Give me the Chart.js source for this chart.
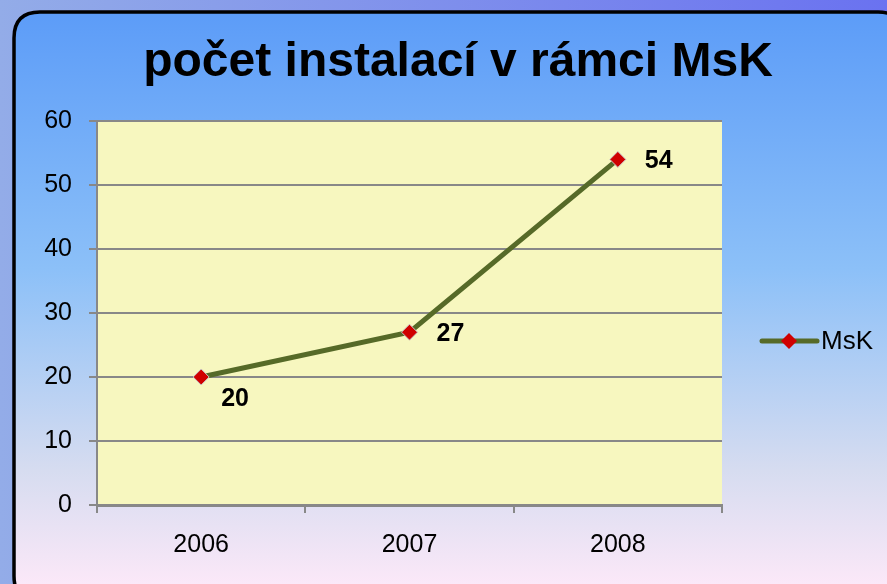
<!DOCTYPE html>
<html>
<head>
<meta charset="utf-8">
<script src="https://cdn.jsdelivr.net/npm/chart.js@4"></script>
<style>
  html, body { margin: 0; padding: 0; }
  body { width: 887px; height: 584px; overflow: hidden; }
  #wrap { position: relative; width: 887px; height: 584px; }
</style>
</head>
<body>
<div id="wrap"><canvas id="lineChart" width="887" height="584"></canvas></div>
<script>
var years = ["2006", "2007", "2008"];
var mskValues = [20, 27, 54];
var seriesName = "MsK";
var chartTitle = "počet instalací v rámci MsK";

var FONT = "'Liberation Sans', Arial, sans-serif";

// background, rounded box, title, legend and value labels
var decorPlugin = {
  id: "decor",
  beforeDraw: function (chart) {
    var ctx = chart.ctx;
    var w = chart.width, h = chart.height;
    ctx.save();
    var outer = ctx.createLinearGradient(0, 0, w, 0);
    outer.addColorStop(0, "#93ace8");
    outer.addColorStop(1, "#6a72f0");
    ctx.fillStyle = outer;
    ctx.fillRect(0, 0, w, h);

    var x = 14, y = 12, bw = 890, bh = 590, r = 26;
    ctx.beginPath();
    ctx.moveTo(x + r, y);
    ctx.lineTo(x + bw - r, y);
    ctx.quadraticCurveTo(x + bw, y, x + bw, y + r);
    ctx.lineTo(x + bw, y + bh - r);
    ctx.quadraticCurveTo(x + bw, y + bh, x + bw - r, y + bh);
    ctx.lineTo(x + r, y + bh);
    ctx.quadraticCurveTo(x, y + bh, x, y + bh - r);
    ctx.lineTo(x, y + r);
    ctx.quadraticCurveTo(x, y, x + r, y);
    ctx.closePath();
    var inner = ctx.createLinearGradient(0, y, 0, h);
    inner.addColorStop(0, "#5c9cf8");
    inner.addColorStop(0.45, "#8cc0f8");
    inner.addColorStop(0.8, "#d6dcf0");
    inner.addColorStop(1, "#fbe8f8");
    ctx.fillStyle = inner;
    ctx.fill();
    ctx.lineWidth = 3.5;
    ctx.strokeStyle = "#000";
    ctx.stroke();

    // title
    ctx.fillStyle = "#000";
    ctx.font = "bold 48px " + FONT;
    ctx.textAlign = "center";
    ctx.textBaseline = "middle";
    ctx.fillText(chartTitle, 458, 63);

    // plot area fill
    var a = chart.chartArea;
    ctx.fillStyle = "#f7f7bf";
    ctx.fillRect(a.left, a.top, a.right - a.left, a.bottom - a.top);
    ctx.restore();
  },
  afterDatasetsDraw: function (chart) {
    var ctx = chart.ctx;
    var ds = chart.data.datasets[0];
    var meta = chart.getDatasetMeta(0);
    ctx.save();
    ctx.fillStyle = "#000";
    ctx.font = "bold 25px " + FONT;
    ctx.textAlign = "left";
    ctx.textBaseline = "middle";
    var offs = [[20, 22], [27, 2], [27, 2]];
    meta.data.forEach(function (pt, i) {
      ctx.fillText(String(ds.data[i]), pt.x + offs[i][0], pt.y + offs[i][1]);
    });

    // legend
    var ly = 341, lx = 762;
    ctx.strokeStyle = ds.borderColor;
    ctx.lineWidth = 5;
    ctx.lineCap = "round";
    ctx.beginPath();
    ctx.moveTo(lx, ly);
    ctx.lineTo(lx + 55, ly);
    ctx.stroke();
    ctx.fillStyle = ds.pointBackgroundColor;
    ctx.beginPath();
    ctx.moveTo(lx + 27, ly - 8);
    ctx.lineTo(lx + 35, ly);
    ctx.lineTo(lx + 27, ly + 8);
    ctx.lineTo(lx + 19, ly);
    ctx.closePath();
    ctx.fill();
    ctx.fillStyle = "#000";
    ctx.font = "26px " + FONT;
    ctx.fillText(ds.label, lx + 59, ly + 1);
    ctx.restore();
  }
};

var lineChart = new Chart(document.getElementById("lineChart").getContext("2d"), {
  type: "line",
  data: {
    labels: years,
    datasets: [
      {
        label: seriesName,
        data: mskValues,
        borderColor: "#566a28",
        borderWidth: 5,
        tension: 0,
        pointStyle: "rectRot",
        pointRadius: 8,
        pointHoverRadius: 8,
        pointBackgroundColor: "#d00000",
        pointBorderColor: "#c8c8c8",
        pointBorderWidth: 1,
      },
    ],
  },
  options: {
    responsive: false,
    animation: false,
    events: [],
    layout: {
      padding: { left: 0, right: 165, top: 121, bottom: 0 },
    },
    plugins: {
      legend: { display: false },
      title: { display: false },
      tooltip: { enabled: false },
    },
    scales: {
      x: {
        offset: true,
        grid: {
          offset: true,
          drawOnChartArea: false,
          color: "#888",
          lineWidth: 2,
          tickLength: 8,
        },
        border: { color: "#888", width: 3 },
        ticks: {
          color: "#000",
          font: { family: FONT, size: 25 },
          padding: 17,
        },
        afterFit: function (scale) { scale.height = 79; },
      },
      y: {
        min: 0,
        max: 60,
        ticks: {
          stepSize: 10,
          color: "#000",
          font: { family: FONT, size: 25 },
          padding: 17,
        },
        grid: { color: "#888", lineWidth: 2, tickLength: 8 },
        border: { color: "#888", width: 2 },
        afterFit: function (scale) { scale.width = 97; },
      },
    },
  },
  plugins: [decorPlugin],
});
</script>
</body>
</html>
